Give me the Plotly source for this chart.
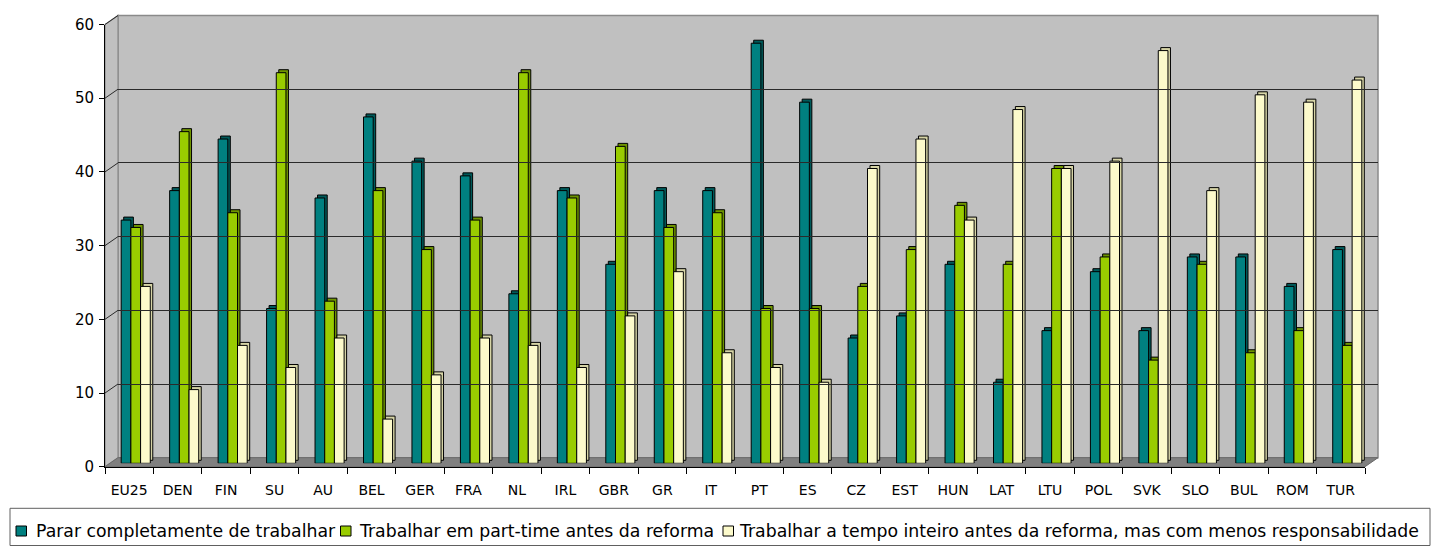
import plotly.graph_objects as go

# Countries / groupings on the category axis
categories = ["EU25", "DEN", "FIN", "SU", "AU", "BEL", "GER", "FRA", "NL", "IRL",
              "GBR", "GR", "IT", "PT", "ES", "CZ", "EST", "HUN", "LAT", "LTU",
              "POL", "SVK", "SLO", "BUL", "ROM", "TUR"]

series_names = [
    "Parar completamente de trabalhar",
    "Trabalhar em part-time antes da reforma",
    "Trabalhar a tempo inteiro antes da reforma, mas com menos responsabilidade",
]

parar = [33, 37, 44, 21, 36, 47, 41, 39, 23, 37, 27, 37, 37, 57, 49, 17, 20, 27, 11, 18, 26, 18, 28, 28, 24, 29]
part_time = [32, 45, 34, 53, 22, 37, 29, 33, 53, 36, 43, 32, 34, 21, 21, 24, 29, 35, 27, 40, 28, 14, 27, 15, 18, 16]
tempo_inteiro = [24, 10, 16, 13, 17, 6, 12, 17, 16, 13, 20, 26, 15, 13, 11, 40, 44, 33, 48, 40, 41, 56, 37, 50, 49, 52]

y_ticks = [0, 10, 20, 30, 40, 50, 60]

# ---- page geometry (pixels) -------------------------------------------
W, H = 1433, 548
FONT = "DejaVu Sans"


def px(x):
    return x / W


def py(y):
    return 1 - y / H


# front plane of the box, back wall and the plane where the bars stand
FX0, FX1, FY0, FY60 = 105, 1365, 466.7, 24.5
DEPTH_X, DEPTH_Y = 13, 9.0
BX0, BX1 = FX0 + DEPTH_X, FX1 + DEPTH_X
BY0, BY60 = FY0 - DEPTH_Y, FY60 - DEPTH_Y
MX0, MX1 = FX0 + 6.5, FX1 + 6.5
MY0, MY60 = FY0 - 3.4, FY60 - 3.4

PX_PER_UNIT = (MY0 - MY60) / 60.0
CAT_PX = (FX1 - FX0) / len(categories)

face_colors = ["#008080", "#99CC00", "#FCFACB"]
side_colors = ["#005A5A", "#6E9400", "#D6D4A6"]
offsets = [-0.30, -0.10, 0.10]
BAR_W = 0.20
SIDE_DX = 2.5 / CAT_PX          # extrusion shift, in category units
SIDE_DY = 3.0 / PX_PER_UNIT     # extrusion lift, in value units

values = [parar, part_time, tempo_inteiro]

fig = go.Figure()

# extruded (back) part of every bar first, then the front faces
for vals, off, col in zip(values, offsets, side_colors):
    fig.add_trace(go.Bar(
        x=categories, y=vals, base=SIDE_DY, offset=off + SIDE_DX, width=BAR_W,
        marker=dict(color=col, line=dict(color="black", width=1)),
        showlegend=False, hoverinfo="skip", xaxis="x", yaxis="y",
    ))
for vals, off, col, name in zip(values, offsets, face_colors, series_names):
    fig.add_trace(go.Bar(
        x=categories, y=vals, offset=off, width=BAR_W, name=name,
        marker=dict(color=col, line=dict(color="black", width=1)),
        showlegend=False, xaxis="x", yaxis="y",
    ))

# carrier for the front category axis (labels and boundary ticks)
fig.add_trace(go.Scatter(
    x=categories, y=[0] * len(categories), mode="markers",
    marker=dict(opacity=0), showlegend=False, hoverinfo="skip",
    xaxis="x2", yaxis="y2",
))
# carrier for the back-wall grid
fig.add_trace(go.Scatter(
    x=[0], y=[0], mode="markers", marker=dict(opacity=0),
    showlegend=False, hoverinfo="skip", xaxis="x3", yaxis="y3",
))

shapes = []
# back wall
shapes.append(dict(type="rect", xref="paper", yref="paper",
                   x0=px(BX0), x1=px(BX1), y0=py(BY0), y1=py(BY60),
                   fillcolor="#C0C0C0", line=dict(color="#8A8A8A", width=1.5),
                   layer="below"))
# left side wall
shapes.append(dict(type="path", xref="paper", yref="paper",
                   path=f"M {px(FX0)},{py(FY0)} L {px(FX0)},{py(FY60)} "
                        f"L {px(BX0)},{py(BY60)} L {px(BX0)},{py(BY0)} Z",
                   fillcolor="#C0C0C0", line=dict(color="#8A8A8A", width=1.2),
                   layer="below"))
# floor
shapes.append(dict(type="path", xref="paper", yref="paper",
                   path=f"M {px(FX0)},{py(FY0)} L {px(FX1)},{py(FY0)} "
                        f"L {px(BX1)},{py(BY0)} L {px(BX0)},{py(BY0)} Z",
                   fillcolor="#808080", line=dict(color="#6A6A6A", width=1),
                   layer="below"))
# grid lines running across the side wall
for v in y_ticks:
    if v == 0:
        continue
    shapes.append(dict(type="line", xref="paper", yref="paper",
                       x0=px(FX0), y0=py(FY0 - v * (FY0 - FY60) / 60),
                       x1=px(BX0), y1=py(BY0 - v * (BY0 - BY60) / 60),
                       line=dict(color="#2A2A2A", width=1), layer="below"))

# legend frame and keys
LEG_Y0, LEG_Y1, KEY_CY = 508.3, 545.5, 531
shapes.append(dict(type="rect", xref="paper", yref="paper",
                   x0=px(10), x1=px(1430), y0=py(LEG_Y1), y1=py(LEG_Y0),
                   line=dict(color="#606060", width=1), fillcolor="white"))
key_x = [16, 340.5, 723]
text_x = [35, 358, 737.5]
annotations = []
for kx, tx, col, name in zip(key_x, text_x, face_colors, series_names):
    shapes.append(dict(type="rect", xref="paper", yref="paper",
                       x0=px(kx), x1=px(kx + 10.5),
                       y0=py(KEY_CY + 5), y1=py(KEY_CY - 5),
                       fillcolor=col, line=dict(color="black", width=1)))
    annotations.append(dict(x=px(tx), y=py(KEY_CY), xref="paper", yref="paper",
                            text=name, showarrow=False, xanchor="left",
                            yanchor="middle", borderpad=0,
                            font=dict(family=FONT, size=17.3, color="black")))

fig.update_layout(
    width=W, height=H,
    margin=dict(l=0, r=0, t=0, b=0, pad=0, autoexpand=False),
    paper_bgcolor="white",
    plot_bgcolor="rgba(0,0,0,0)",
    barmode="overlay",
    showlegend=False,
    font=dict(family=FONT, size=14, color="black"),
    shapes=shapes,
    annotations=annotations,
    # bars
    xaxis=dict(domain=[px(MX0), px(MX1)], type="category",
               categoryorder="array", categoryarray=categories,
               range=[-0.5, len(categories) - 0.5], automargin=False,
               showticklabels=False, showgrid=False, zeroline=False,
               showline=False, ticks="", anchor="y"),
    yaxis=dict(domain=[py(MY0), py(MY60)], range=[0, 60], automargin=False,
               showticklabels=False, showgrid=False, zeroline=False,
               showline=False, ticks="", anchor="x"),
    # front axes
    xaxis2=dict(domain=[px(FX0), px(FX1)], type="category",
                categoryorder="array", categoryarray=categories,
                range=[-0.5, len(categories) - 0.5], automargin=False,
                tickson="boundaries", ticks="outside", ticklen=6,
                tickcolor="black", showline=True, linecolor="black",
                linewidth=1, showgrid=False, zeroline=False,
                tickfont=dict(family=FONT, size=14, color="black"),
                ticklabelstandoff=10, anchor="y2"),
    yaxis2=dict(domain=[py(FY0), py(FY60)], range=[0, 60], automargin=False,
                tickvals=y_ticks, ticks="outside", ticklen=5,
                tickcolor="black", showline=True, linecolor="black",
                linewidth=1, showgrid=False, zeroline=False,
                tickfont=dict(family=FONT, size=15, color="black"),
                ticklabelstandoff=2, anchor="x2"),
    # back wall grid
    xaxis3=dict(domain=[px(BX0), px(BX1)], range=[0, 1], visible=False,
                automargin=False, anchor="y3"),
    yaxis3=dict(domain=[py(BY0), py(BY60)], range=[0, 60], automargin=False,
                tickvals=y_ticks, showgrid=True, gridcolor="#2A2A2A",
                gridwidth=1, zeroline=False, showticklabels=False,
                ticks="", showline=False, anchor="x3"),
)

fig.write_html("out.html")
